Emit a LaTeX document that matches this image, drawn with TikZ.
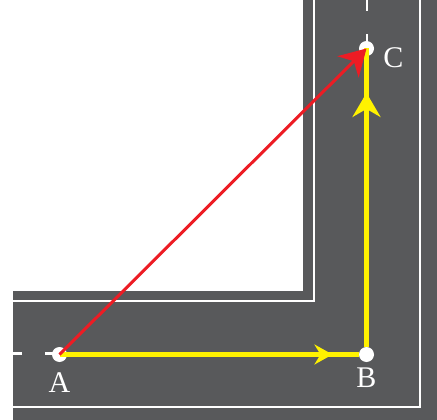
\documentclass[tikz,border=0pt]{standalone}
\usepackage{fontspec}
\setmainfont{Liberation Serif}
\usepackage{tikz}
\usetikzlibrary{
  arrows.meta,
  positioning,
  decorations.markings
}
\definecolor{roadGray}{RGB}{88,89,91}
\definecolor{pathYellow}{RGB}{255,242,0}
\definecolor{pathRed}{RGB}{237,28,36}

\begin{document}
\begin{tikzpicture}[
  x=1pt, y=-1pt,
  font=\fontsize{30pt}{32pt}\selectfont,
  roadline/.style={draw=white, line width=2pt},
  centerline/.style={draw=white, line width=2.5pt, dash pattern=on 23pt off 23pt},
  spot/.style={
    circle,
    fill=white,
    minimum size=15pt,
    inner sep=0pt
  },
  lbl/.style={text=white, inner sep=0pt},
  route/.style={pathYellow, line width=4.5pt},
  midarrow/.style 2 args={
    postaction={decorate},
    decoration={markings,
      mark=at position #1 with {\arrow{#2}}}
  },
  direct/.style={pathRed, line width=3pt,
    -{Stealth[length=26pt, width=30pt, inset=8pt]}}
]
\useasboundingbox (0,0) rectangle (437,420);

% road
\fill[roadGray] (13,291) -- (303,291) -- (303,0) -- (437,0)
  -- (437,420) -- (13,420) -- cycle;
\draw[roadline] (13,301) -- (314,301) -- (314,0);
\draw[roadline] (13,406.7) -- (420,406.7) -- (420,0);
\draw[centerline, dash phase=14pt] (13,353.5) -- (367,353.5);
\draw[centerline, dash phase=12pt] (367,0) -- (367,353.5);

% points
\node[spot] (A) at (59.5,354.5) {};
\node[spot] (B) at (366.5,354.5) {};
\node[spot] (C) at (366.5,48.5) {};
\node[lbl, below=10pt of A] (labA) {A};
\node[lbl, below=5pt of B] (labB) {B};
\node[lbl, right=9pt of C, yshift=-9pt] (labC) {C};

\draw[route, midarrow={0.912}{Stealth[length=18pt, width=20pt, inset=6pt]}]
  (A.center) -- (B.west);
\draw[route, midarrow={0.851}{Stealth[length=24pt, width=28pt, inset=8pt]}]
  (B.north) -- (C.center);
\draw[direct] (A.center) -- (C.center);

\end{tikzpicture}
\end{document}
